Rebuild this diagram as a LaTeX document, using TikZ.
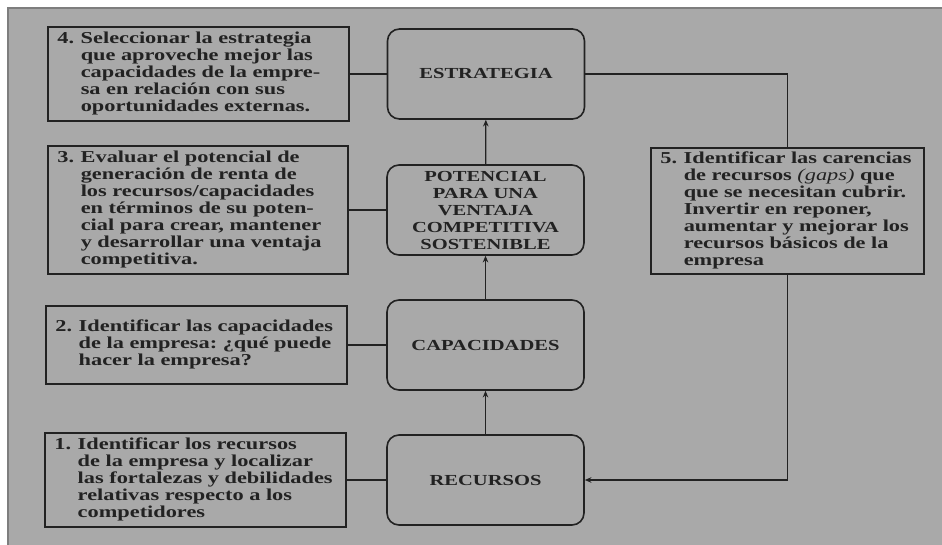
\documentclass[tikz,border=0pt]{standalone}
\usepackage{fontspec}
\setmainfont{Liberation Serif}[FakeStretch=1.34]
\usetikzlibrary{arrows.meta}
\frenchspacing
\definecolor{panel}{HTML}{A9A9A9}
\definecolor{edge}{HTML}{7E7E7E}
\definecolor{ink}{HTML}{222222}
\newcommand\steplines[1]{\begin{tabular}[c]{@{}l@{\hspace{5pt}}l@{}}#1\end{tabular}}
\tikzset{
  stepbox/.style={draw=ink, line width=1.2pt, rectangle, inner xsep=7pt, inner ysep=0pt,
    text=ink, align=left, minimum height=#1,
    font=\bfseries\fontsize{12.5pt}{12.75pt}\selectfont},
  stagebox/.style={draw=ink, line width=1.2pt, rectangle, rounded corners=9pt,
    minimum width=147.75pt, minimum height=67.5pt, inner sep=2pt, align=center, text=ink,
    font=\bfseries\fontsize{11.5pt}{12.75pt}\selectfont},
  link/.style={draw=ink, line width=0.9pt},
  flow/.style={link, -{Stealth[length=5pt,width=4.2pt]}}
}
\begin{document}
\begin{tikzpicture}[x=0.75pt, y=-0.75pt]
  \useasboundingbox (0,0) rectangle (942,545);
  % background panel
  \fill[panel] (8,8) rectangle (942,545);
  \draw[edge, line width=1.2pt] (8,545) -- (8,8) -- (942,8);

  % central stages
  \node[stagebox] (est) at (486,74) {ESTRATEGIA};
  \node[stagebox] (pot) at (485.5,210) {POTENCIAL\\PARA UNA\\VENTAJA\\COMPETITIVA\\SOSTENIBLE};
  \node[stagebox] (cap) at (485.5,345) {CAPACIDADES};
  \node[stagebox] (rec) at (485.5,480) {RECURSOS};

  % numbered steps
  \node[stepbox=70.5pt, text width=211.75pt] (s4) at (198.5,74) {\steplines{%
    4.&Seleccionar la estrategia\\ &que aproveche mejor las\\ &capacidades de la empre-\\
     &sa en relación con sus\\ &oportunidades externas.}};
  \node[stepbox=96pt, text width=211pt] (s3) at (198,210) {\steplines{%
    3.&Evaluar el potencial de\\ &generación de renta de\\ &los recursos/capacidades\\
     &en términos de su poten-\\ &cial para crear, mantener\\ &y desarrollar una ventaja\\
     &competitiva.}};
  \node[stepbox=58.5pt, text width=211.75pt] (s2) at (196.5,345) {\steplines{%
    2.&Identificar las capacidades\\ &de la empresa: ¿qué puede\\ &hacer la empresa?}};
  \node[stepbox=70.5pt, text width=211.75pt] (s1) at (195.5,480) {\steplines{%
    1.&Identificar los recursos\\ &de la empresa y localizar\\ &las fortalezas y debilidades\\
     &relativas respecto a los\\ &competidores}};
  \node[stepbox=94.5pt, text width=190.75pt] (s5) at (787.5,211) {\steplines{%
    5.&Identificar las carencias\\ &de recursos {\mdseries\itshape (gaps)} que\\
     &que se necesitan cubrir.\\ &Invertir en reponer,\\ &aumentar y mejorar los\\
     &recursos básicos de la\\ &empresa}};

  % steps attached to stages
  \draw[link] (s4) -- (est);
  \draw[link] (s3) -- (pot);
  \draw[link] (s2) -- (cap);
  \draw[link] (s1) -- (rec);

  % upward flow
  \draw[flow] (rec) -- (cap);
  \draw[flow] (cap) -- (pot);
  \draw[flow] (pot) -- (est);

  % feedback loop through step 5
  \draw[link] (est.east) -| (s5.north);
  \draw[flow] (s5.south) |- (rec.east);
\end{tikzpicture}
\end{document}
